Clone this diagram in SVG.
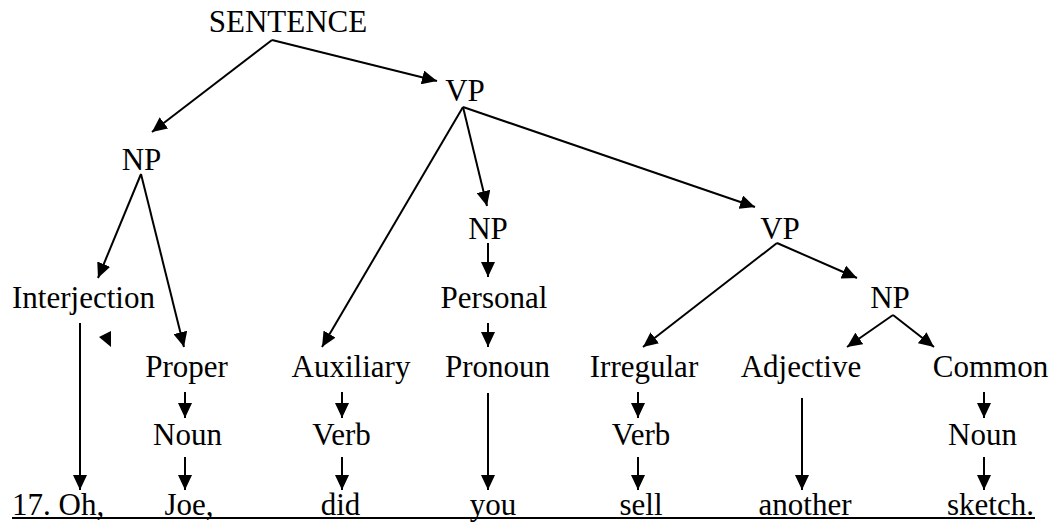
<svg xmlns="http://www.w3.org/2000/svg" width="1061" height="523" viewBox="0 0 1061 523">
<style>
text{font-family:'Liberation Serif','Times New Roman','DejaVu Serif',serif;font-size:31px;fill:#000;text-anchor:middle}
.c line{stroke:#000;stroke-width:2;marker-end:url(#ah)}
</style>
<defs>
<marker id="ah" markerUnits="userSpaceOnUse" markerWidth="15" markerHeight="14" refX="15" refY="7" orient="auto">
<path d="M0,0 L15,7 L0,14 z" fill="#000"/>
</marker>
</defs>
<rect width="1061" height="523" fill="#fff"/>
<g id="connectors" class="c">
<line x1="272" y1="40" x2="152" y2="132"/>
<line x1="272" y1="40" x2="437" y2="81"/>
<line x1="463" y1="107" x2="487" y2="206"/>
<line x1="463" y1="107" x2="322" y2="347"/>
<line x1="463" y1="107" x2="755" y2="207"/>
<line x1="141" y1="174" x2="98" y2="278"/>
<line x1="141" y1="174" x2="184" y2="347"/>
<line x1="80" y1="323" x2="80" y2="490"/>
<line x1="488" y1="243" x2="488" y2="277"/>
<line x1="488" y1="323" x2="488" y2="347"/>
<line x1="488" y1="393" x2="488" y2="490"/>
<line x1="185" y1="392" x2="185" y2="418"/>
<line x1="185" y1="457" x2="185" y2="490"/>
<line x1="342" y1="392" x2="342" y2="418"/>
<line x1="342" y1="457" x2="342" y2="490"/>
<line x1="777" y1="243" x2="643" y2="347"/>
<line x1="777" y1="243" x2="857" y2="278"/>
<line x1="893" y1="315" x2="847" y2="347"/>
<line x1="893" y1="315" x2="934" y2="347"/>
<line x1="638" y1="392" x2="638" y2="418"/>
<line x1="638" y1="457" x2="638" y2="490"/>
<line x1="802" y1="398" x2="802" y2="490"/>
<line x1="984" y1="392" x2="984" y2="418"/>
<line x1="984" y1="457" x2="984" y2="490"/>
<path d="M99,337 L111,331 L111,347 z" fill="#000"/>
</g>
<g id="n-sentence"><text x="288" y="32">SENTENCE</text></g>
<g id="n-vp1"><text x="465" y="101">VP</text></g>
<g id="n-np1"><text x="141.5" y="170">NP</text></g>
<g id="n-np2"><text x="488" y="239">NP</text></g>
<g id="n-vp2"><text x="780" y="239">VP</text></g>
<g id="n-interjection"><text x="83.5" y="308">Interjection</text></g>
<g id="n-personal"><text x="494" y="308">Personal</text></g>
<g id="n-np3"><text x="890" y="308">NP</text></g>
<g id="n-proper"><text x="186.5" y="377">Proper</text></g>
<g id="n-auxiliary"><text x="351" y="377">Auxiliary</text></g>
<g id="n-pronoun"><text x="497.5" y="377">Pronoun</text></g>
<g id="n-irregular"><text x="644" y="377">Irregular</text></g>
<g id="n-adjective"><text x="801" y="377">Adjective</text></g>
<g id="n-common"><text x="990.5" y="377">Common</text></g>
<g id="n-noun1"><text x="187.5" y="445">Noun</text></g>
<g id="n-verb1"><text x="341.5" y="445">Verb</text></g>
<g id="n-verb2"><text x="641" y="445">Verb</text></g>
<g id="n-noun2"><text x="982.5" y="445">Noun</text></g>
<g id="sentence-words">
<text x="12" y="515" style="text-anchor:start">17. Oh,</text>
<text x="189" y="515">Joe,</text>
<text x="340.5" y="515">did</text>
<text x="493" y="515">you</text>
<text x="641" y="515">sell</text>
<text x="805" y="515">another</text>
<text x="990.5" y="515">sketch.</text>
<line x1="12" y1="518" x2="1035" y2="518" stroke="#000" stroke-width="2"/>
</g>
</svg>
